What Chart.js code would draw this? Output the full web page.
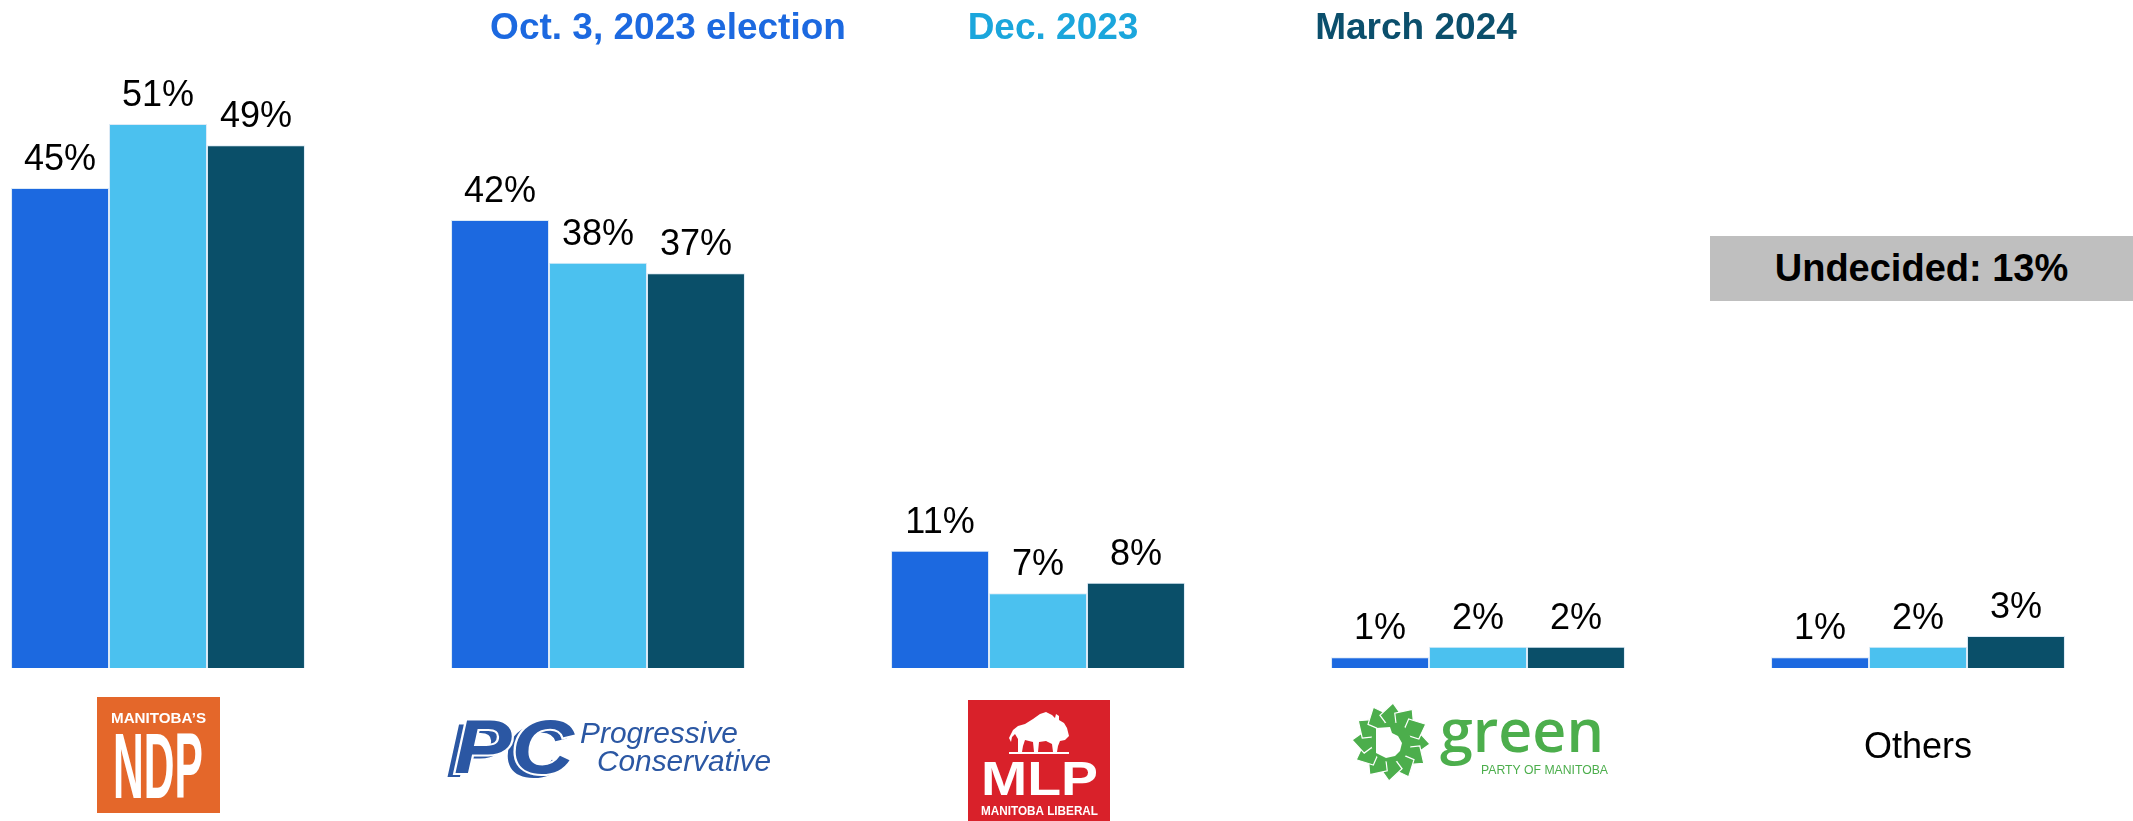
<!DOCTYPE html>
<html>
<head>
<meta charset="utf-8">
<script src="https://cdn.jsdelivr.net/npm/chart.js"></script>
<style>
  html, body { margin: 0; padding: 0; background: #fff; }
  body { width: 2133px; height: 821px; overflow: hidden; position: relative; font-family: "Liberation Sans", Arial, sans-serif; }
  #wrap { position: absolute; left: -62px; top: 0; width: 2200px; height: 821px; }
  #undecided {
    position: absolute; left: 1710px; top: 236px; width: 423px; height: 65px;
    background: #bfbfbf; color: #000; font-weight: bold; font-size: 38px;
    line-height: 65px; text-align: center;
  }
</style>
</head>
<body>
<div id="wrap"><canvas id="myChart"></canvas></div>
<div id="undecided"></div>
<script>
const parties = ['NDP', 'PC', 'Liberal', 'Green', 'Others'];
const seriesNames = ['Oct. 3, 2023 election', 'Dec. 2023', 'March 2024'];
const oct2023 = [45, 42, 11, 1, 1];
const dec2023 = [51, 38, 7, 2, 2];
const mar2024 = [49, 37, 8, 2, 3];
const undecided = 13;

const barColors = ['#1c69e0', '#4bc1ef', '#0a4f69'];
const headerColors = ['#1c69e0', '#1ba6dc', '#0b4f6c'];
const OFFSET = 62; // canvas is shifted left by this much

document.getElementById('undecided').innerText = `Undecided: ${undecided}%`;

// draw text squeezed/stretched to a given width
function fitText(ctx, text, left, baseline, width) {
  ctx.save();
  ctx.textAlign = 'left';
  ctx.textBaseline = 'alphabetic';
  const w = ctx.measureText(text).width;
  ctx.translate(left, baseline);
  ctx.scale(width / w, 1);
  ctx.fillText(text, 0, 0);
  ctx.restore();
}

function poly(ctx, pts, x0, y0) {
  ctx.beginPath();
  pts.forEach((pt, i) => i ? ctx.lineTo(x0 + pt[0], y0 + pt[1]) : ctx.moveTo(x0 + pt[0], y0 + pt[1]));
  ctx.closePath();
  ctx.fill();
}

function drawNDP(ctx, c) {
  ctx.fillStyle = '#e4672a';
  ctx.fillRect(c - 61, 697, 123, 116);
  ctx.fillStyle = '#fff';
  ctx.font = 'bold 15px "Liberation Sans", Arial';
  fitText(ctx, 'MANITOBA\u2019S', c - 47, 723, 95);
  ctx.font = 'bold 93px "Liberation Sans", Arial';
  fitText(ctx, 'NDP', c - 45, 798, 90);
}

function drawPC(ctx, c) {
  const blue = '#2b57a3';
  ctx.font = 'italic bold 76px "Liberation Sans", Arial';
  ctx.fillStyle = blue;
  fitText(ctx, 'PC', c - 152, 777, 120);
  ctx.save();
  ctx.strokeStyle = '#fff';
  ctx.lineWidth = 4;
  ctx.textAlign = 'left';
  const w = ctx.measureText('PC').width;
  ctx.translate(c - 144, 773);
  ctx.scale(120 / w, 1);
  ctx.strokeText('PC', 0, 0);
  ctx.fillStyle = blue;
  ctx.fillText('PC', 0, 0);
  ctx.restore();
  ctx.fillStyle = blue;
  ctx.font = 'italic 30px "Liberation Sans", Arial';
  fitText(ctx, 'Progressive', c - 18, 743, 158);
  fitText(ctx, 'Conservative', c - 1, 771, 174);
}

function drawMLP(ctx, c) {
  ctx.fillStyle = '#d9212a';
  ctx.fillRect(c - 70, 700, 142, 121);
  ctx.fillStyle = '#fff';
  // rough bison silhouette, head to the right
  poly(ctx, [
    [0, 26], [4, 18], [9, 14], [16, 12], [24, 7], [31, 2], [37, 0], [43, 3],
    [46, 6], [47, 2], [50, 4], [50, 8], [55, 11], [58, 16], [60, 24], [56, 28],
    [51, 29], [49, 34], [48, 40], [44, 40], [43, 32], [37, 29], [30, 30],
    [29, 40], [25, 40], [24, 30], [16, 28], [14, 34], [13, 40], [9, 40],
    [9, 27], [6, 22], [3, 25], [2, 30]
  ], c - 29, 712);
  ctx.fillRect(c - 29, 752, 60, 2);
  ctx.font = 'bold 48px "Liberation Sans", Arial';
  fitText(ctx, 'MLP', c - 57, 795, 117);
  ctx.font = 'bold 12px "Liberation Sans", Arial';
  fitText(ctx, 'MANITOBA LIBERAL', c - 57, 815, 117);
}

function drawGreen(ctx, c) {
  const green = '#4cae4c';
  const cx = c - 87, cy = 742;
  ctx.save();
  ctx.fillStyle = green;
  ctx.strokeStyle = '#fff';
  ctx.lineWidth = 1.2;
  const n = 12;
  for (let i = 0; i < n; i++) {
    const a = i * 2 * Math.PI / n;
    const da = Math.PI / n;
    const pt = (r, t) => [cx + r * Math.cos(t), cy + r * Math.sin(t)];
    const p = [pt(14, a - da * 0.4), pt(29, a - da * 1.5), pt(39, a + da * 0.2), pt(28, a + da * 1.6)];
    ctx.beginPath();
    ctx.moveTo(p[0][0], p[0][1]);
    for (let k = 1; k < 4; k++) ctx.lineTo(p[k][0], p[k][1]);
    ctx.closePath();
    ctx.fill();
    ctx.stroke();
  }
  ctx.beginPath();
  ctx.arc(cx, cy, 20, 0, 2 * Math.PI);
  ctx.fill();
  ctx.fillStyle = '#fff';
  poly(ctx, [[-13, -14], [1, -15], [3, -9], [9, -6], [13, 1], [11, 9], [6, 14], [-3, 16], [-13, 11]], cx - 2, cy);
  ctx.restore();
  ctx.fillStyle = green;
  ctx.font = '600 60px "Open Sans", Arial';
  fitText(ctx, 'green', c - 38, 752, 164);
  ctx.font = '13px "Liberation Sans", Arial';
  fitText(ctx, 'PARTY OF MANITOBA', c + 3, 774, 127);
}

const decorPlugin = {
  id: 'decor',
  afterDatasetsDraw(chart) {
    const ctx = chart.ctx;
    ctx.save();
    // value labels above bars
    ctx.fillStyle = '#000';
    ctx.font = '36px "Liberation Sans", Arial';
    ctx.textAlign = 'center';
    ctx.textBaseline = 'alphabetic';
    chart.data.datasets.forEach((ds, di) => {
      chart.getDatasetMeta(di).data.forEach((bar, i) => {
        ctx.fillText(`${ds.data[i]}%`, bar.x, bar.y - 18);
      });
    });
    // series headers
    const headerX = [668, 1053, 1416];
    ctx.font = 'bold 37px "Liberation Sans", Arial';
    seriesNames.forEach((name, i) => {
      ctx.fillStyle = headerColors[i];
      ctx.fillText(name, headerX[i] + OFFSET, 39);
    });
    // party logos under the categories
    const xs = chart.scales.x;
    const cx = parties.map((p, i) => xs.getPixelForValue(i));
    drawNDP(ctx, cx[0]);
    drawPC(ctx, cx[1]);
    drawMLP(ctx, cx[2]);
    drawGreen(ctx, cx[3]);
    ctx.fillStyle = '#000';
    ctx.font = '36px "Liberation Sans", Arial';
    ctx.textAlign = 'center';
    ctx.fillText(parties[4], cx[4], 758);
    ctx.restore();
  }
};

const seriesData = [oct2023, dec2023, mar2024];

const myChart = new Chart('myChart', {
  type: 'bar',
  data: {
    labels: parties,
    datasets: seriesNames.map((name, i) => ({
      label: name,
      data: seriesData[i],
      backgroundColor: barColors[i],
      borderColor: 'rgba(205,225,242,0.7)',
      borderWidth: 1,
      categoryPercentage: 0.668,
      barPercentage: 1.0
    }))
  },
  options: {
    responsive: true,
    maintainAspectRatio: false,
    animation: false,
    layout: { padding: { top: 28, bottom: 153, left: 0, right: 0 } },
    plugins: {
      legend: { display: false },
      tooltip: { enabled: false }
    },
    scales: {
      x: { display: false },
      y: { display: false, min: 0, max: 60 }
    }
  },
  plugins: [decorPlugin]
});
</script>
</body>
</html>
